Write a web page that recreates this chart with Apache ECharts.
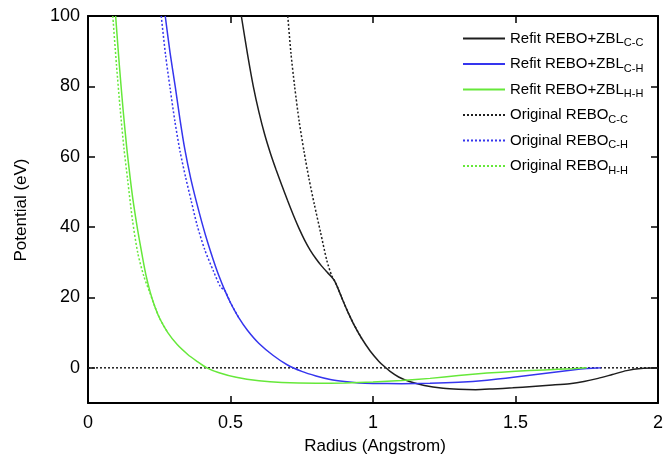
<!DOCTYPE html>
<html>
<head>
<meta charset="utf-8">
<script src="https://cdn.jsdelivr.net/npm/echarts@6/dist/echarts.min.js"></script>
<style>html,body{margin:0;padding:0;background:#fff}#c{width:666px;height:460px}</style>
</head>
<body>
<div id="c"></div>
<script>
// ---- data ----
const xTicks = [0, 0.5, 1, 1.5, 2];
const yTicks = [0, 20, 40, 60, 80, 100];
const xTitle = 'Radius (Angstrom)';
const yTitle = 'Potential (eV)';

const refitCC = [[0.538,100],[0.56,89],[0.58,80],[0.60,72.6],[0.62,66.3],[0.64,61],[0.66,56.3],[0.68,51.9],[0.70,47.6],[0.72,43.5],[0.74,39.7],[0.76,36.3],[0.78,33.4],[0.80,31],[0.82,28.9],[0.84,27.1],[0.855,25.8],[0.866,24.6],[0.876,22.8],[0.89,20],[0.91,16.2],[0.933,12.3],[0.96,8.4],[0.99,4.8],[1.02,1.9],[1.038,0.5],[1.06,-1],[1.09,-2.6],[1.128,-3.9],[1.18,-5.0],[1.246,-5.8],[1.30,-6.1],[1.36,-6.2],[1.42,-6.0],[1.49,-5.7],[1.56,-5.3],[1.63,-4.9],[1.69,-4.5],[1.74,-3.9],[1.79,-3.0],[1.84,-1.9],[1.89,-0.8],[1.94,-0.2],[2.0,0]];
const refitCH = [[0.271,100],[0.288,89.5],[0.306,80],[0.323,70.5],[0.34,62],[0.36,54],[0.38,47.3],[0.40,41.2],[0.42,35.6],[0.44,30.6],[0.46,26],[0.48,22],[0.50,18.5],[0.53,14.1],[0.56,10.6],[0.60,6.9],[0.65,3.5],[0.70,0.8],[0.75,-1.0],[0.80,-2.3],[0.85,-3.3],[0.90,-3.9],[0.95,-4.3],[1.0,-4.45],[1.1,-4.5],[1.2,-4.4],[1.3,-4.1],[1.4,-3.5],[1.5,-2.6],[1.6,-1.6],[1.7,-0.6],[1.75,-0.2],[1.8,0]];
const refitHH = [[0.097,100],[0.110,86],[0.123,73.5],[0.136,62.5],[0.149,53.3],[0.16,46.5],[0.174,39.3],[0.19,32],[0.203,26.5],[0.219,21.3],[0.235,17.3],[0.253,13.8],[0.28,10],[0.313,6.6],[0.35,3.8],[0.38,2.0],[0.417,0],[0.46,-1.4],[0.52,-2.7],[0.6,-3.7],[0.68,-4.2],[0.8,-4.4],[0.9,-4.3],[1.0,-4.0],[1.1,-3.6],[1.2,-3.0],[1.3,-2.2],[1.4,-1.5],[1.5,-1.0],[1.6,-0.6],[1.7,-0.25],[1.75,0]];
const origCC = [[0.701,100],[0.712,89.5],[0.725,80],[0.741,70],[0.758,61.5],[0.776,53.5],[0.794,46.5],[0.816,38.5],[0.838,30.5],[0.855,26.2],[0.866,24.6],[0.876,22.8],[0.89,20],[0.91,16.2],[0.933,12.3],[0.96,8.4]];
const origCH = [[0.257,100],[0.272,89],[0.288,79.5],[0.305,70],[0.323,61.5],[0.343,54],[0.362,47.5],[0.383,40.5],[0.41,33.5],[0.44,27.5],[0.465,23],[0.48,22],[0.50,18.5],[0.53,14.1]];
const origHH = [[0.087,100],[0.100,86],[0.113,73.5],[0.126,62.5],[0.139,53.5],[0.156,42],[0.175,32.5],[0.196,26],[0.215,21.8],[0.235,17.3],[0.253,13.8],[0.28,10]];
const zeroLine = [[0,0],[2,0]];

const names = ['Refit REBO+ZBL C-C','Refit REBO+ZBL C-H','Refit REBO+ZBL H-H','Original REBO C-C','Original REBO C-H','Original REBO H-H'];
const legendParts = {
  'Refit REBO+ZBL C-C':['Refit REBO+ZBL','C-C'],
  'Refit REBO+ZBL C-H':['Refit REBO+ZBL','C-H'],
  'Refit REBO+ZBL H-H':['Refit REBO+ZBL','H-H'],
  'Original REBO C-C':['Original REBO','C-C'],
  'Original REBO C-H':['Original REBO','C-H'],
  'Original REBO H-H':['Original REBO','H-H']
};

const BLACK = '#1e1e1e', BLUE = '#3535ee', GREEN = '#66e83a';
const DOT = [2, 2];

function line(name, data, color, dotted) {
  return {
    name, type: 'line', data, symbol: 'none', showSymbol: false, smooth: 0.25,
    clip: true, animation: false,
    lineStyle: { color, width: 1.5, type: dotted ? DOT : 'solid' },
    itemStyle: { color }
  };
}

// legend icons: solid bar, and a row of small dots
let dotPath = 'path://';
for (let i = 0; i < 11; i++) dotPath += 'M' + (i * 4) + ',0h2v2h-2z';
const legendData = names.map((n, i) => ({ name: n, icon: i < 3 ? 'rect' : dotPath }));

const axisLine = () => ({ show: true, onZero: false, lineStyle: { color: '#000', width: 2 } });
const axisTick = (extra) => Object.assign({ show: true, inside: true, length: 7, lineStyle: { color: '#000', width: 1.5 } }, extra || {});

const FONT = 'Liberation Sans, Arial, sans-serif';
const chart = echarts.init(document.getElementById('c'));
chart.setOption({
  animation: false,
  backgroundColor: '#fff',
  textStyle: { fontFamily: FONT },
  grid: { left: 88, right: 3, top: 16, bottom: 57 },
  legend: {
    data: legendData, orient: 'vertical', left: 458, top: 26,
    itemWidth: 42, itemHeight: 2, itemGap: 8,
    formatter: n => '{m|' + legendParts[n][0] + '}{s|' + legendParts[n][1] + '}',
    textStyle: {
      color: '#000', fontSize: 15,
      rich: {
        m: { fontSize: 15, color: '#000', lineHeight: 20 },
        s: { fontSize: 11, color: '#000', lineHeight: 11, verticalAlign: 'bottom' }
      }
    }
  },
  graphic: [
    { type: 'text', x: 375, y: 446, silent: true,
      style: { text: xTitle, fontSize: 17, fontFamily: FONT, fill: '#000', align: 'center', verticalAlign: 'middle' } },
    { type: 'text', x: 21, y: 210, rotation: Math.PI / 2, silent: true,
      style: { text: yTitle, fontSize: 17, fontFamily: FONT, fill: '#000', align: 'center', verticalAlign: 'middle' } }
  ],
  xAxis: [
    { type: 'value', min: 0, max: 2, interval: 0.5, position: 'bottom',
      axisLine: axisLine(), axisTick: axisTick(), splitLine: { show: false },
      axisLabel: { color: '#000', fontSize: 18, margin: 11, formatter: v => String(v) } },
    { type: 'value', min: 0, max: 2, interval: 0.5, position: 'top',
      axisLine: axisLine(), axisTick: axisTick(), splitLine: { show: false },
      axisLabel: { show: false } }
  ],
  yAxis: [
    { type: 'value', min: -10, max: 100, position: 'left',
      axisLine: axisLine(), axisTick: axisTick({ customValues: yTicks }),
      splitLine: { show: false },
      axisLabel: { color: '#000', fontSize: 18, margin: 8, customValues: yTicks } },
    { type: 'value', min: -10, max: 100, position: 'right',
      axisLine: axisLine(), axisTick: axisTick({ customValues: yTicks }),
      splitLine: { show: false }, axisLabel: { show: false, customValues: yTicks } }
  ],
  series: [
    Object.assign(line('zero', zeroLine, BLACK, true), { smooth: false }),
    line(names[0], refitCC, BLACK, false),
    line(names[1], refitCH, BLUE, false),
    line(names[2], refitHH, GREEN, false),
    line(names[3], origCC, BLACK, true),
    line(names[4], origCH, BLUE, true),
    line(names[5], origHH, GREEN, true)
  ]
});
</script>
</body>
</html>
